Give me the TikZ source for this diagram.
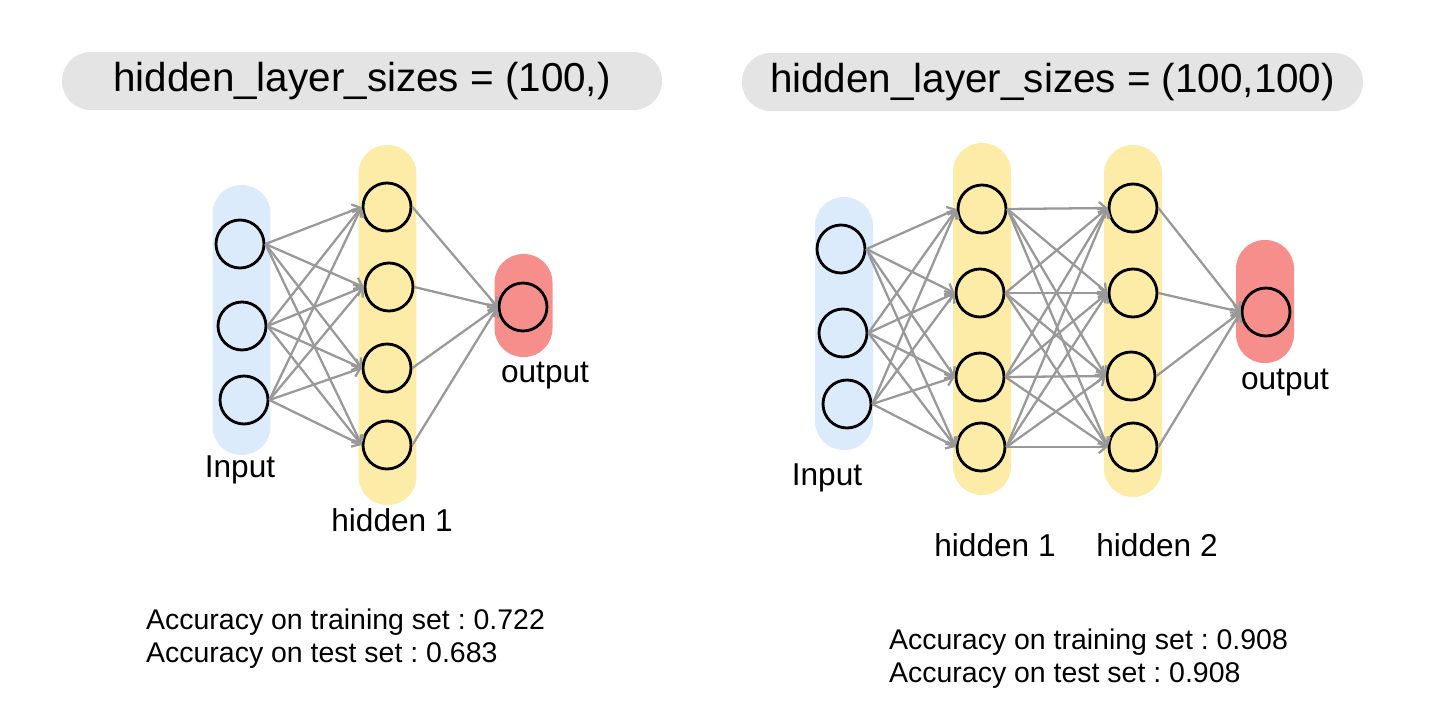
\documentclass[tikz,border=0pt]{standalone}
\usepackage{fontspec}
\setmainfont{Liberation Sans}
\usetikzlibrary{arrows.meta}
\definecolor{inblue}{HTML}{DCEBFB}
\definecolor{hidyellow}{HTML}{FDEBA8}
\definecolor{outred}{HTML}{F68F8C}
\definecolor{pillgray}{HTML}{E4E4E4}
\definecolor{wiregray}{HTML}{999999}
\tikzset{
  neuron/.style={draw, circle, line width=1.6pt, minimum size=0.96cm, inner sep=0pt},
  layerbar/.style={rounded corners=0.57cm, minimum width=1.16cm, inner sep=0pt},
  titlebar/.style={fill=pillgray, rounded corners=0.57cm, minimum height=1.16cm, inner sep=0pt, font=\fontsize{23}{27}\selectfont},
  wire/.style={draw=wiregray, line width=1.3pt, -{Straight Barb[length=4pt,width=7pt]}},
  tag/.style={font=\fontsize{18}{20}\selectfont},
  score/.style={align=left, anchor=north west, font=\fontsize{16.2}{18.8}\selectfont}
}
\frenchspacing

\begin{document}
\begin{tikzpicture}[x=0.02cm, y=-0.02cm]
  \useasboundingbox (0,0) rectangle (1440,717);

  % left network
  \node[titlebar, minimum width=12cm] (ltitle) at (362,81) {hidden\_layer\_sizes = (100,)};
  \node[layerbar, fill=inblue, minimum height=5.4cm] (linbar) at (241.5,320) {};
  \node[layerbar, fill=hidyellow, minimum height=7.2cm] (lhidbar) at (387.5,325) {};
  \node[layerbar, fill=outred, minimum height=2.06cm] (loutbar) at (523.5,305.5) {};

  \node[neuron] (lin1) at (240,244) {};
  \node[neuron] (lin2) at (242,326) {};
  \node[neuron] (lin3) at (244,400) {};
  \node[neuron] (lhid1) at (387,207) {};
  \node[neuron] (lhid2) at (389,287) {};
  \node[neuron] (lhid3) at (387,368) {};
  \node[neuron] (lhid4) at (387,445) {};
  \node[neuron] (lout) at (523,307) {};

  \foreach \i in {1,2,3}
    \foreach \j in {1,...,4}
      \draw[wire] (lin\i.east) -- (lhid\j.west);
  \foreach \j in {1,...,4}
    \draw[wire] (lhid\j.east) -- (lout.west);

  \node[tag] (linlabel) at (240,470) {Input};
  \node[tag] (lhidlabel) at (392,520) {hidden 1};
  \node[tag] (loutlabel) at (545,376) {output};

  \node[score] (lscore) at (140,603) {Accuracy on training set : 0.722\\Accuracy on test set : 0.683};

  % right network
  \node[titlebar, minimum width=12.42cm] (rtitle) at (1052.5,82) {hidden\_layer\_sizes = (100,100)};
  \node[layerbar, fill=inblue, minimum height=5.06cm] (rinbar) at (844,323.5) {};
  \node[layerbar, fill=hidyellow, minimum height=7.04cm] (rhidabar) at (982,319) {};
  \node[layerbar, fill=hidyellow, minimum height=7.04cm] (rhidbbar) at (1133,321) {};
  \node[layerbar, fill=outred, minimum height=2.46cm] (routbar) at (1265,301.5) {};

  \node[neuron] (rin1) at (841,249) {};
  \node[neuron] (rin2) at (843,333) {};
  \node[neuron] (rin3) at (847,404) {};
  \node[neuron] (rhida1) at (982,209) {};
  \node[neuron] (rhida2) at (980,293) {};
  \node[neuron] (rhida3) at (980,377) {};
  \node[neuron] (rhida4) at (981,447) {};
  \node[neuron] (rhidb1) at (1133,208) {};
  \node[neuron] (rhidb2) at (1133,293) {};
  \node[neuron] (rhidb3) at (1131,376) {};
  \node[neuron] (rhidb4) at (1133,447) {};
  \node[neuron] (rout) at (1266,312) {};

  \foreach \i in {1,2,3}
    \foreach \j in {1,...,4}
      \draw[wire] (rin\i.east) -- (rhida\j.west);
  \foreach \i in {1,...,4}
    \foreach \j in {1,...,4}
      \draw[wire] (rhida\i.east) -- (rhidb\j.west);
  \foreach \j in {1,...,4}
    \draw[wire] (rhidb\j.east) -- (rout.west);

  \node[tag] (rinlabel) at (827,478) {Input};
  \node[tag] (rhidalabel) at (995,545) {hidden 1};
  \node[tag] (rhidblabel) at (1157,545) {hidden 2};
  \node[tag] (routlabel) at (1285,383) {output};

  \node[score] (rscore) at (883,623) {Accuracy on training set : 0.908\\Accuracy on test set : 0.908};
\end{tikzpicture}
\end{document}
